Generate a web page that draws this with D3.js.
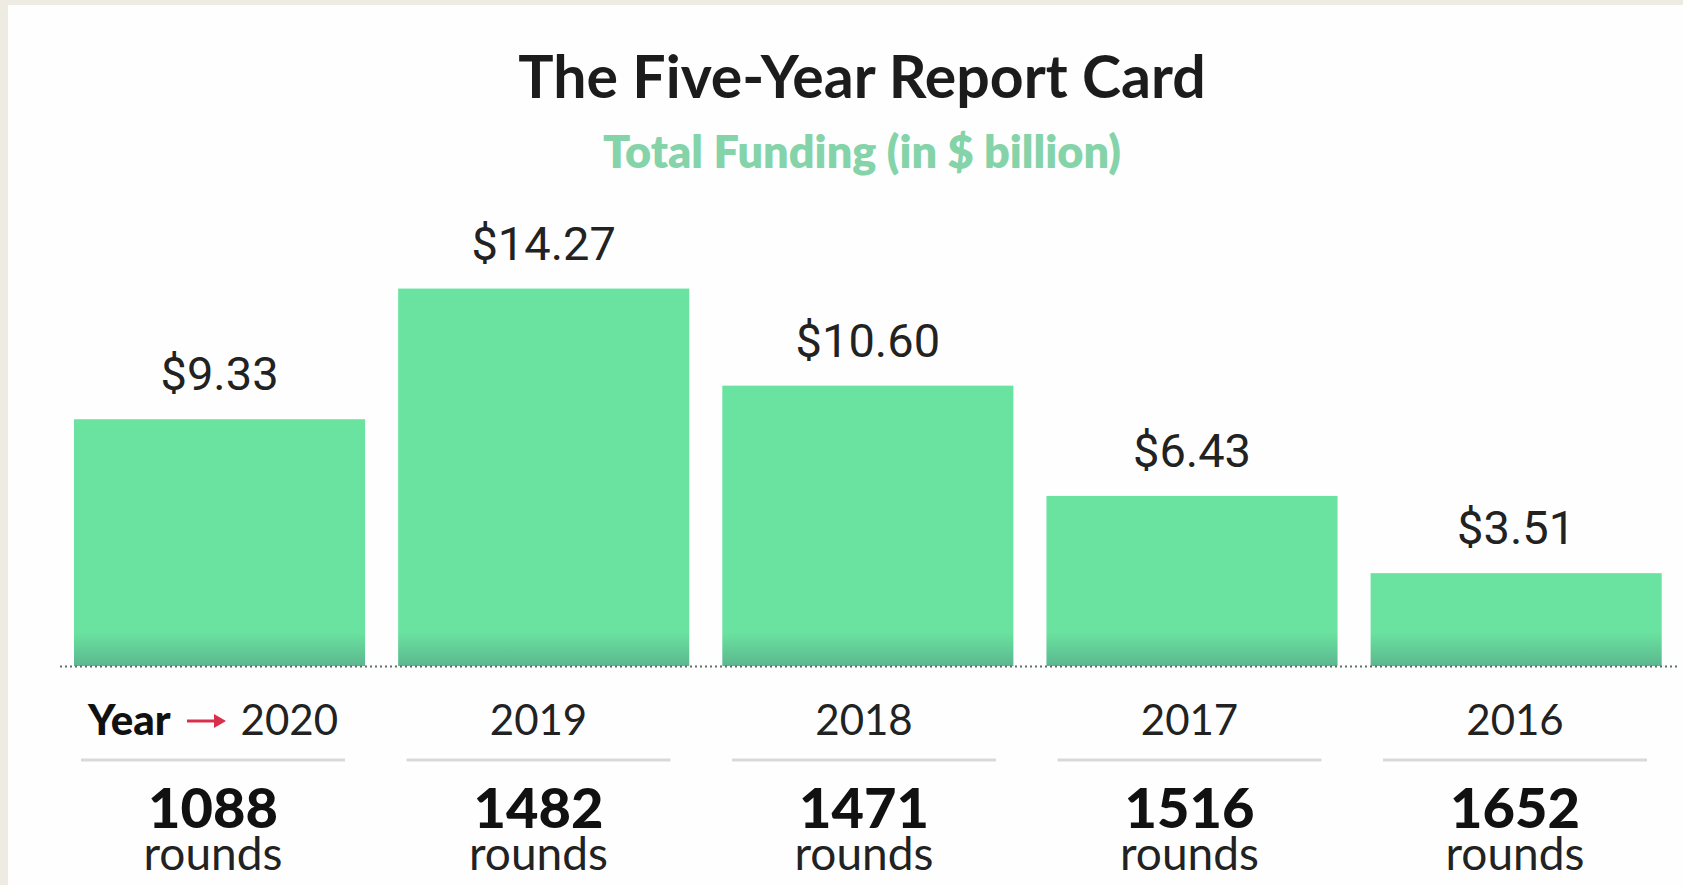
<!DOCTYPE html>
<html>
<head>
<meta charset="utf-8">
<script src="https://cdn.jsdelivr.net/npm/d3@7/dist/d3.min.js"></script>
<style>
  html, body { margin: 0; padding: 0; background: #eeebe3; }
  svg { display: block; }
</style>
</head>
<body>
<div id="chart"></div>
<script>
// Five-year funding report card
const years = ["2020", "2019", "2018", "2017", "2016"];
const funding = [9.33, 14.27, 10.60, 6.43, 3.51];      // $ billion
const rounds = [1088, 1482, 1471, 1516, 1652];          // number of rounds
const fundingLabels = ["$9.33", "$14.27", "$10.60", "$6.43", "$3.51"];

const W = 1683, H = 885;
const baseline = 666;

const svg = d3.select("#chart").append("svg")
  .attr("width", W).attr("height", H);

// white card on the beige page
svg.append("rect").attr("x", 8).attr("y", 5).attr("width", W - 8).attr("height", H - 5)
  .attr("fill", "#fefefe");

// bar gradient: flat green with a darker band at the base
const defs = svg.append("defs");
const grad = defs.append("linearGradient")
  .attr("id", "barGrad").attr("gradientUnits", "userSpaceOnUse")
  .attr("x1", 0).attr("x2", 0).attr("y1", baseline - 34).attr("y2", baseline);
grad.append("stop").attr("offset", "0%").attr("stop-color", "#6ae3a0");
grad.append("stop").attr("offset", "100%").attr("stop-color", "#5bb78f");

const x = d3.scaleBand().domain(years).range([74, 1661.7])
  .paddingInner(0.102).paddingOuter(0);
const y = d3.scaleLinear().domain([0, 15]).range([baseline, baseline - 15 * 26.45]);
const col = d3.scalePoint().domain(years).range([213, 1515]);

const data = years.map((yr, i) => ({ yr, v: funding[i], r: rounds[i], lab: fundingLabels[i] }));

// title block
svg.append("text").attr("x", 862).attr("y", 98)
  .attr("text-anchor", "middle")
  .style("font-family", "Lato, 'Open Sans', sans-serif")
  .style("font-weight", 700).style("font-size", "59px").attr("fill", "#1c1c1c")
  .text("The Five-Year Report Card");
svg.append("text").attr("x", 862).attr("y", 168)
  .attr("text-anchor", "middle")
  .style("font-family", "Lato, 'Open Sans', sans-serif")
  .style("font-weight", 800).style("font-size", "45px").attr("fill", "#84d3a9")
  .text("Total Funding (in $ billion)");

// bars
svg.append("g").selectAll("rect").data(data).join("rect")
  .attr("x", d => x(d.yr))
  .attr("y", d => y(d.v))
  .attr("width", x.bandwidth())
  .attr("height", d => y(0) - y(d.v))
  .attr("fill", "url(#barGrad)");

// dotted baseline
svg.append("line").attr("x1", 60).attr("x2", 1678)
  .attr("y1", baseline + 0.5).attr("y2", baseline + 0.5)
  .attr("stroke", "#5f6f69").attr("stroke-width", 2)
  .attr("stroke-dasharray", "2,3");

// value labels
svg.append("g").selectAll("text").data(data).join("text")
  .attr("x", d => x(d.yr) + x.bandwidth() / 2)
  .attr("y", d => y(d.v) - 29)
  .attr("text-anchor", "middle")
  .style("font-family", "Roboto, sans-serif")
  .style("font-size", "47px").attr("fill", "#222")
  .text(d => d.lab);

// year labels
const yearG = svg.append("g")
  .style("font-family", "Lato, 'Open Sans', sans-serif")
  .style("font-size", "42px");
yearG.selectAll("text.yr").data(data.slice(1)).join("text")
  .attr("class", "yr")
  .attr("x", d => col(d.yr)).attr("y", 735)
  .attr("text-anchor", "middle").attr("fill", "#222")
  .text(d => d.yr);

// first column: "Year → 2020"
const c0 = col(years[0]);
yearG.append("text").attr("x", c0 - 125).attr("y", 735)
  .attr("text-anchor", "start").attr("fill", "#111")
  .style("font-weight", 900).text("Year");
yearG.append("text").attr("x", c0 + 125).attr("y", 735)
  .attr("text-anchor", "end").attr("fill", "#222")
  .text(years[0]);
svg.append("line").attr("x1", c0 - 26).attr("x2", c0 + 4)
  .attr("y1", 721).attr("y2", 721)
  .attr("stroke", "#d8304a").attr("stroke-width", 3);
svg.append("path")
  .attr("d", `M${c0 + 13},721 L${c0 + 1},714 L${c0 + 1},728 Z`)
  .attr("fill", "#d8304a");

// separator rules
svg.append("g").selectAll("line").data(data).join("line")
  .attr("x1", d => col(d.yr) - 132).attr("x2", d => col(d.yr) + 132)
  .attr("y1", 760).attr("y2", 760)
  .attr("stroke", "#d9d9d9").attr("stroke-width", 3);

// rounds counts: bold number over "rounds", stacked in one text block
const roundsText = svg.append("g").selectAll("text").data(data).join("text")
  .attr("text-anchor", "middle")
  .style("font-family", "Lato, 'Open Sans', sans-serif");
roundsText.append("tspan")
  .attr("x", d => col(d.yr)).attr("y", 828)
  .style("font-weight", 900).style("font-size", "56px").attr("fill", "#111")
  .text(d => d.r);
roundsText.append("tspan")
  .attr("x", d => col(d.yr)).attr("y", 870)
  .style("font-weight", 400).style("font-size", "46px").attr("fill", "#222")
  .text("rounds");
</script>
</body>
</html>
